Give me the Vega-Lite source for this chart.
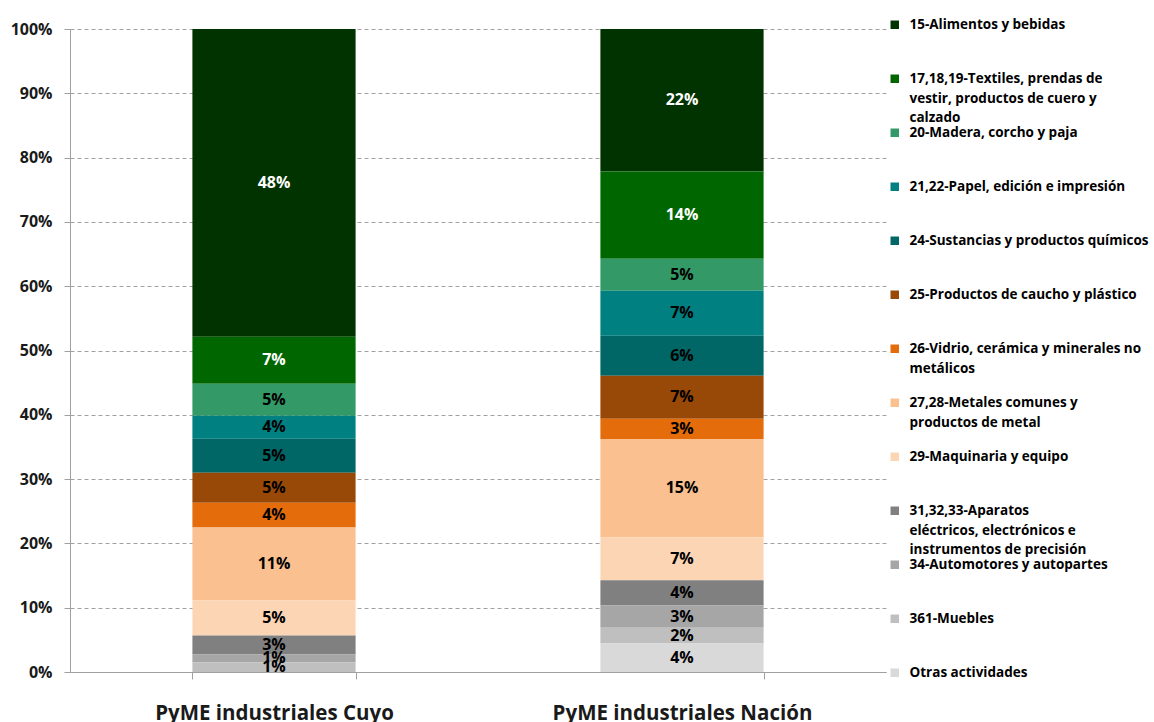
{
  "$schema": "https://vega.github.io/schema/vega-lite/v6.json",
  "autosize": "none",
  "padding": {"left": 70, "top": 29, "right": 268, "bottom": 50},
  "width": 816,
  "height": 643,
  "config": {"view": {"stroke": null}, "font": "Open Sans"},
  "data": {
    "values": [
      {"grupo": "PyME industriales  Cuyo", "sector": "15-Alimentos y bebidas", "v": 0.4787},
      {"grupo": "PyME industriales  Cuyo", "sector": "17,18,19-Textiles, prendas de vestir, productos de cuero y calzado", "v": 0.073},
      {"grupo": "PyME industriales  Cuyo", "sector": "20-Madera, corcho  y paja", "v": 0.0497},
      {"grupo": "PyME industriales  Cuyo", "sector": "21,22-Papel, edición e impresión", "v": 0.0357},
      {"grupo": "PyME industriales  Cuyo", "sector": "24-Sustancias y productos químicos", "v": 0.0529},
      {"grupo": "PyME industriales  Cuyo", "sector": "25-Productos de caucho  y plástico", "v": 0.0466},
      {"grupo": "PyME industriales  Cuyo", "sector": "26-Vidrio, cerámica y minerales no metálicos", "v": 0.0388},
      {"grupo": "PyME industriales  Cuyo", "sector": "27,28-Metales comunes y productos de metal", "v": 0.1134},
      {"grupo": "PyME industriales  Cuyo", "sector": "29-Maquinaria  y equipo", "v": 0.0545},
      {"grupo": "PyME industriales  Cuyo", "sector": "31,32,33-Aparatos eléctricos, electrónicos e instrumentos de precisión", "v": 0.0295},
      {"grupo": "PyME industriales  Cuyo", "sector": "34-Automotores y autopartes", "v": 0.0124},
      {"grupo": "PyME industriales  Cuyo", "sector": "361-Muebles", "v": 0.0148},
      {"grupo": "PyME industriales  Nación", "sector": "15-Alimentos y bebidas", "v": 0.2218},
      {"grupo": "PyME industriales  Nación", "sector": "17,18,19-Textiles, prendas de vestir, productos de cuero y calzado", "v": 0.1356},
      {"grupo": "PyME industriales  Nación", "sector": "20-Madera, corcho  y paja", "v": 0.0497},
      {"grupo": "PyME industriales  Nación", "sector": "21,22-Papel, edición e impresión", "v": 0.070},
      {"grupo": "PyME industriales  Nación", "sector": "24-Sustancias y productos químicos", "v": 0.0621},
      {"grupo": "PyME industriales  Nación", "sector": "25-Productos de caucho  y plástico", "v": 0.0669},
      {"grupo": "PyME industriales  Nación", "sector": "26-Vidrio, cerámica y minerales no metálicos", "v": 0.0315},
      {"grupo": "PyME industriales  Nación", "sector": "27,28-Metales comunes y productos de metal", "v": 0.1529},
      {"grupo": "PyME industriales  Nación", "sector": "29-Maquinaria  y equipo", "v": 0.0668},
      {"grupo": "PyME industriales  Nación", "sector": "31,32,33-Aparatos eléctricos, electrónicos e instrumentos de precisión", "v": 0.0394},
      {"grupo": "PyME industriales  Nación", "sector": "34-Automotores y autopartes", "v": 0.0346},
      {"grupo": "PyME industriales  Nación", "sector": "361-Muebles", "v": 0.0244},
      {"grupo": "PyME industriales  Nación", "sector": "Otras actividades", "v": 0.0443}
    ]
  },
  "encoding": {
    "x": {
      "field": "grupo",
      "type": "nominal",
      "sort": ["PyME industriales  Cuyo", "PyME industriales  Nación"],
      "scale": {"paddingInner": 0.6, "paddingOuter": 0.3},
      "axis": {
        "title": null,
        "labelAngle": 0,
        "labelFont": "Open Sans",
        "labelFontSize": 20.5,
        "labelFontWeight": "bold",
        "labelColor": "#1a1a1a",
        "labelPadding": 24,
        "labelLimit": 500,
        "tickBand": "extent",
        "tickSize": 7,
        "tickColor": "#a0a0a0",
        "domainColor": "#a0a0a0"
      }
    },
    "y": {
      "field": "v",
      "type": "quantitative",
      "stack": "normalize",
      "scale": {"domain": [0, 1]},
      "axis": {
        "title": null,
        "values": [0, 0.1, 0.2, 0.3, 0.4, 0.5, 0.6, 0.7, 0.8, 0.9, 1],
        "format": ".0%",
        "labelFont": "Open Sans",
        "labelFontSize": 16,
        "labelFontWeight": "bold",
        "labelColor": "#1a1a1a",
        "labelPadding": 12,
        "tickSize": 6,
        "tickColor": "#a0a0a0",
        "domainColor": "#a0a0a0",
        "grid": true,
        "gridDash": [4, 3],
        "gridColor": "#a0a0a0"
      }
    },
    "order": {"field": "sector", "type": "ordinal", "sort": "descending"}
  },
  "layer": [
    {
      "mark": {"type": "bar"},
      "encoding": {
        "color": {
          "field": "sector",
          "type": "nominal",
          "scale": {
            "domain": [
              "15-Alimentos y bebidas",
              "17,18,19-Textiles, prendas de vestir, productos de cuero y calzado",
              "20-Madera, corcho  y paja",
              "21,22-Papel, edición e impresión",
              "24-Sustancias y productos químicos",
              "25-Productos de caucho  y plástico",
              "26-Vidrio, cerámica y minerales no metálicos",
              "27,28-Metales comunes y productos de metal",
              "29-Maquinaria  y equipo",
              "31,32,33-Aparatos eléctricos, electrónicos e instrumentos de precisión",
              "34-Automotores y autopartes",
              "361-Muebles",
              "Otras actividades"
            ],
            "range": ["#003300", "#006600", "#339966", "#008080", "#006666", "#984807", "#E46C0A", "#FAC090", "#FCD5B5", "#808080", "#A6A6A6", "#BFBFBF", "#D9D9D9"]
          },
          "legend": {
            "orient": "none",
            "legendX": 818,
            "legendY": -11,
            "title": null,
            "padding": 0,
            "symbolType": "square",
            "symbolSize": 72,
            "symbolStrokeWidth": 0,
            "labelFont": "Open Sans",
            "labelFontSize": 13.5,
            "labelFontWeight": "bold",
            "labelColor": "#000000",
            "labelLimit": 400,
            "labelOffset": 8,
            "labelBaseline": "top",
            "gridAlign": "all",
            "rowPadding": 1,
            "labelExpr": "datum.label === '17,18,19-Textiles, prendas de vestir, productos de cuero y calzado' ? ['17,18,19-Textiles, prendas de', 'vestir, productos de cuero y', 'calzado'] : datum.label === '26-Vidrio, cerámica y minerales no metálicos' ? ['26-Vidrio, cerámica y minerales no', 'metálicos'] : datum.label === '27,28-Metales comunes y productos de metal' ? ['27,28-Metales comunes y', 'productos de metal'] : datum.label === '31,32,33-Aparatos eléctricos, electrónicos e instrumentos de precisión' ? ['31,32,33-Aparatos', 'eléctricos, electrónicos e', 'instrumentos de precisión'] : datum.label",
            "encode": {"labels": {"update": {"dy": {"value": -6.5}, "lineHeight": {"value": 19.5}}}}
          }
        }
      }
    },
    {
      "mark": {"type": "text", "fontWeight": "bold", "fontSize": 16, "font": "Open Sans", "baseline": "middle"},
      "encoding": {
        "y": {"field": "v", "type": "quantitative", "stack": "normalize", "bandPosition": 0.5},
        "detail": {"field": "sector", "type": "nominal"},
        "text": {"field": "v", "type": "quantitative", "format": ".0%"},
        "color": {
          "condition": {"test": "datum.sector === '15-Alimentos y bebidas' || datum.sector === '17,18,19-Textiles, prendas de vestir, productos de cuero y calzado'", "value": "#ffffff"},
          "value": "#000000"
        }
      }
    }
  ]
}
